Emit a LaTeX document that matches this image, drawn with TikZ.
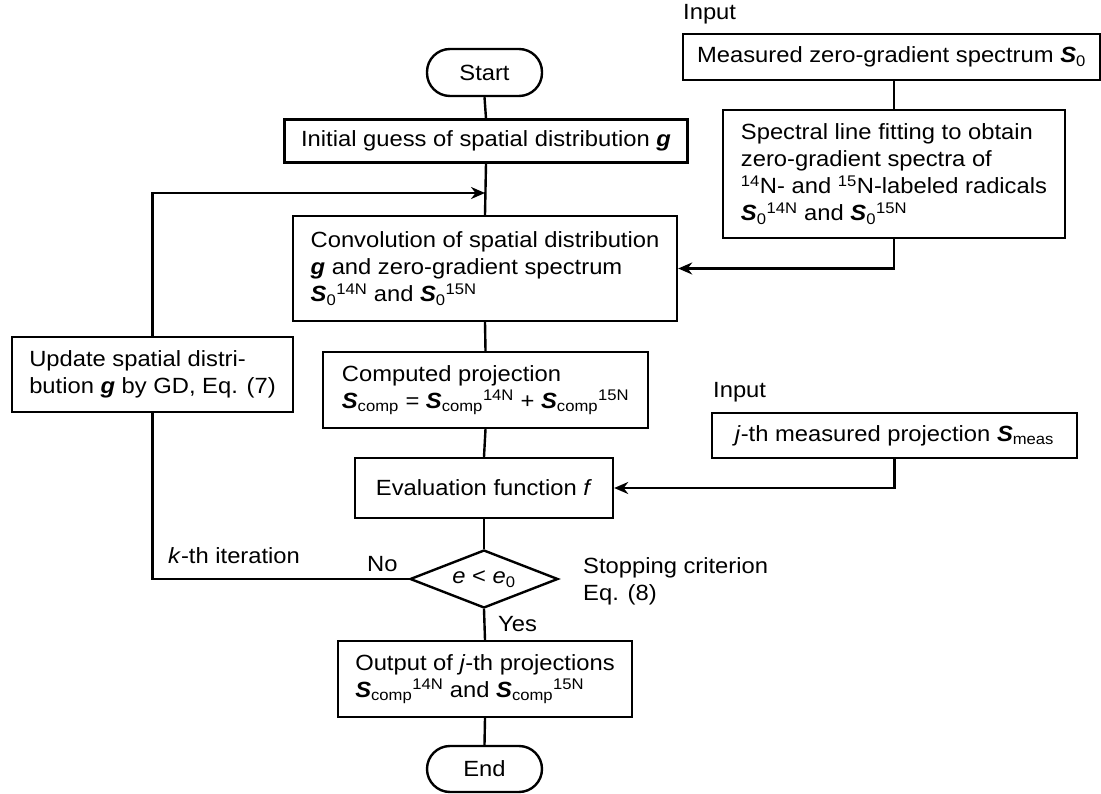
\documentclass[tikz,border=0pt]{standalone}
\usepackage{fontspec}
\setmainfont{Liberation Sans}[FakeStretch=1.08]
\usetikzlibrary{arrows.meta,shapes.geometric}
\newcommand{\bS}{\textbf{\textit{S}}}
\newcommand{\bg}{\textbf{\textit{g}}}
\begin{document}
\begin{tikzpicture}[x=1pt,y=-1pt,
  every node/.style={font=\fontsize{22}{27}\selectfont},
  box/.style={draw,line width=2.4pt,align=left,inner sep=0pt},
  term/.style={draw,line width=2.4pt,rounded corners=23pt,inner sep=0pt},
  conn/.style={line width=2.4pt},
  arr/.style={line width=2.4pt,-{Stealth[length=14pt,width=12pt]}},
  lbl/.style={inner sep=0pt,anchor=base west,align=left}]
\useasboundingbox (0,0) rectangle (1101,794);
% main column
\node[term,minimum width=115pt,minimum height=47pt] (start) at (484.5,72.5) {Start};
\node[box,minimum width=403pt,minimum height=43pt] (init) at (486,141) {Initial guess of spatial distribution \bg};
\node[box,minimum width=384pt,minimum height=105pt] (conv) at (485,268.5) {Convolution of spatial distribution\\ \bg{} and zero-gradient spectrum\\ \bS\textsubscript{0}\textsuperscript{14N} and \bS\textsubscript{0}\textsuperscript{15N}};
\node[box,minimum width=325pt,minimum height=76pt] (comp) at (485.5,390) {Computed projection\\ \bS\textsubscript{comp} = \bS\textsubscript{comp}\textsuperscript{14N} + \bS\textsubscript{comp}\textsuperscript{15N}};
\node[box,minimum width=258pt,minimum height=60pt] (eval) at (484,488) {Evaluation function \textit{f}};
\node[draw,line width=2.4pt,diamond,aspect=2.55,inner sep=0pt,minimum width=148pt,minimum height=58pt] (dia) at (484,579) {\textit{e} < \textit{e}\textsubscript{0}};
\node[box,minimum width=294pt,minimum height=76pt] (out) at (485,679) {Output of \textit{j}-th projections\\ \bS\textsubscript{comp}\textsuperscript{14N} and \bS\textsubscript{comp}\textsuperscript{15N}};
\node[term,minimum width=115pt,minimum height=46pt] (end) at (484.5,769) {End};
% left loop
\node[box,minimum width=281pt,minimum height=75pt] (upd) at (152.5,374.5) {Update spatial distri-\\bution \bg{} by GD, Eq. (7)};
% right inputs
\node[lbl] (in1) at (683,20) {Input};
\node[box,minimum width=417pt,minimum height=46pt] (meas) at (891.5,57) {Measured zero-gradient spectrum \bS\textsubscript{0}};
\node[box,minimum width=342pt,minimum height=128pt] (spec) at (894,174) {Spectral line fitting to obtain\\ zero-gradient spectra of\\ \textsuperscript{14}N- and \textsuperscript{15}N-labeled radicals\\ \bS\textsubscript{0}\textsuperscript{14N} and \bS\textsubscript{0}\textsuperscript{15N}};
\node[lbl] (in2) at (713,398) {Input};
\node[box,minimum width=365pt,minimum height=45pt] (jth) at (894.5,435.5) {\textit{j}-th measured projection \bS\textsubscript{meas}};
% labels
\node[lbl] (kth) at (168,563) {\textit{k}-th iteration};
\node[lbl] (no) at (367,571) {No};
\node[lbl] (yes) at (498,631) {Yes};
\node[inner sep=0pt,anchor=north west,align=left] (stop) at (583,557) {Stopping criterion\\Eq. (8)};
% connectors
\coordinate (join) at (485,193);
\draw[conn] (start.south) -- (init.north);
\draw[conn] (init.south) -- (conv.north);
\draw[conn] (conv.south) -- (comp.north);
\draw[conn] (comp.south) -- (eval.north);
\draw[conn] (eval.south) -- (dia.north);
\draw[conn] (dia.south) -- (out.north);
\draw[conn] (out.south) -- (end.north);
\draw[conn] (dia.west) -- (upd.south |- dia.west) -- (upd.south);
\draw[arr] (upd.north) |- (join);
\draw[conn] (spec.north |- meas.south) -- (spec.north);
\draw[arr] (spec.south) |- (conv.east);
\draw[arr] (jth.south) |- (eval.east);
\end{tikzpicture}
\end{document}
